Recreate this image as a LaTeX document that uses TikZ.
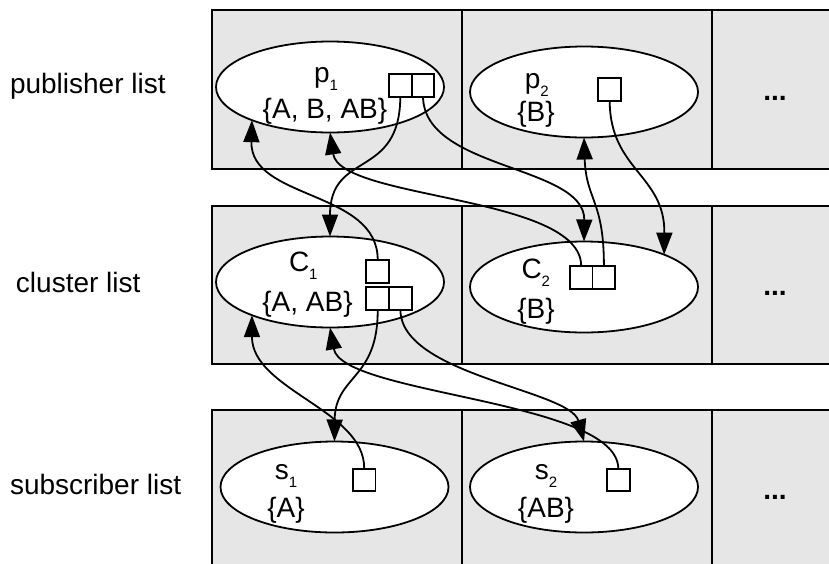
\documentclass[tikz,border=0pt]{standalone}
\usepackage{fontspec}
\setmainfont{Liberation Sans}
\usetikzlibrary{shapes.geometric,arrows.meta}
\definecolor{cellgray}{RGB}{230,230,230}
\newcommand{\sbx}[1]{\raisebox{-8pt}{\fontsize{15}{15}\selectfont #1}}
\begin{document}
\begin{tikzpicture}[x=1pt,y=-1pt,
  every node/.style={inner sep=0pt, outer sep=0pt},
  cell/.style={draw, line width=1.8pt, fill=cellgray},
  setnode/.style={ellipse, draw, line width=1.8pt, fill=white, minimum width=228pt, minimum height=91pt},
  sq/.style={draw, line width=1.8pt, fill=white, minimum size=22.7pt},
  lbl/.style={anchor=base, font=\fontsize{28}{32}\selectfont},
  rowlbl/.style={anchor=base west, font=\fontsize{28}{32}\selectfont},
  more/.style={anchor=base, font=\fontsize{28}{32}\selectfont\bfseries},
  link/.style={line width=1.8pt},
  arr/.style={link, -{Triangle[length=22pt,width=16pt]}}
]
\useasboundingbox (0,0) rectangle (829,563);
% rows of cells
\foreach \yt/\yb in {10/169, 205.7/364, 410/590}{
  \draw[cell] (212,\yt) rectangle (461.7,\yb);
  \draw[cell] (461.7,\yt) rectangle (711.7,\yb);
  \draw[cell] (711.7,\yt) rectangle (860,\yb);
}
% row labels
\node[rowlbl] (lpub) at (10,93.3) {publisher list};
\node[rowlbl] (lclu) at (16,292) {cluster list};
\node[rowlbl] (lsub) at (10,494.3) {subscriber list};
% more markers
\node[more] (m1) at (775,100) {...};
\node[more] (m2) at (775,295) {...};
\node[more] (m3) at (775,499) {...};
% ellipses
\node[setnode] (p1) at (330,87) {};
\node[setnode] (p2) at (584,92) {};
\node[setnode] (C1) at (330,282) {};
\node[setnode] (C2) at (584,287) {};
\node[setnode] (s1) at (334.5,487) {};
\node[setnode] (s2) at (584,487) {};
% texts
\node[lbl] (tp1) at (326,82) {p\sbx{1}};
\node[lbl] (tp1s) at (325,118.3) {\{A, B, AB\}};
\node[lbl] (tp2) at (536.7,88) {p\sbx{2}};
\node[lbl] (tp2s) at (536,121.7) {\{B\}};
\node[lbl] (tc1) at (303.3,271.7) {C\sbx{1}};
\node[lbl] (tc1s) at (307.5,311.7) {\{A, AB\}};
\node[lbl] (tc2) at (535.8,278.3) {C\sbx{2}};
\node[lbl] (tc2s) at (536,318.3) {\{B\}};
\node[lbl] (ts1) at (286,479.3) {s\sbx{1}};
\node[lbl] (ts1s) at (286,517.3) {\{A\}};
\node[lbl] (ts2) at (546,479.3) {s\sbx{2}};
\node[lbl] (ts2s) at (546,517.3) {\{AB\}};
% squares
\node[sq] (p1a) at (400.3,85.3) {};
\node[sq] (p1b) at (423,85.3) {};
\node[sq] (p2a) at (609.7,89.7) {};
\node[sq] (c1t) at (377.7,271.3) {};
\node[sq] (c1a) at (377.7,298.7) {};
\node[sq] (c1b) at (400.4,298.7) {};
\node[sq] (c2a) at (581.2,277.3) {};
\node[sq] (c2b) at (603.9,277.3) {};
\node[sq] (s1a) at (364.2,480) {};
\node[sq] (s2a) at (618.3,480) {};
% connectors
\draw[arr] (p1a.south) .. controls (400,180) and (330,150) .. (C1.north);
\draw[arr] (p1b.south) .. controls (424,170) and (585,165) .. (C2.north);
\draw[arr] (c1t.north) .. controls (378,190) and (250,200) .. (p1.203);
\draw[arr] (c2a.north) .. controls (581,195) and (340,200) .. (p1.south);
\draw[arr] (c2b.north) .. controls (604,200) and (586,200) .. (p2.south);
\draw[arr] (p2a.south) .. controls (610,170) and (665,175) .. (C2.22);
\draw[arr] (s1a.north) .. controls (365,410) and (252,390) .. (C1.203);
\draw[arr] (c1a.south) .. controls (378,380) and (335,375) .. (s1.north);
\draw[arr] (s2a.north) .. controls (618,400) and (342,395) .. (C1.south);
\draw[arr] (c1b.south) .. controls (401,375) and (570,390) .. (s2.north);
\end{tikzpicture}
\end{document}
